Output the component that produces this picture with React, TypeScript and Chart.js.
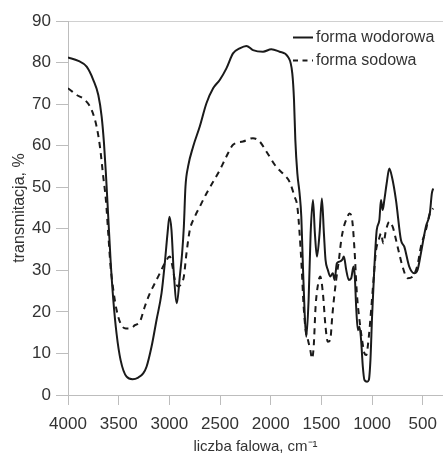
import React, { useEffect, useRef } from "react";
import { Chart, registerables } from "chart.js";

Chart.register(...registerables);

const seriesNames = ["forma wodorowa", "forma sodowa"];
const xTitle = "liczba falowa, cm⁻¹";
const yTitle = "transmitacja, %";
const xTickValues = [4000, 3500, 3000, 2500, 2000, 1500, 1000, 500];

// forma wodorowa (solid)
const hWave = [4000, 3898, 3816, 3750, 3701, 3668, 3645, 3626, 3603, 3580, 3553, 3521, 3481, 3422, 3363, 3307, 3258, 3225, 3176, 3127, 3077, 3045, 3018, 2999, 2979, 2956, 2926, 2897, 2874, 2857, 2841, 2815, 2765, 2700, 2634, 2568, 2503, 2437, 2372, 2306, 2240, 2175, 2076, 1994, 1912, 1830, 1787, 1770, 1757, 1737, 1715, 1698, 1682, 1665, 1649, 1626, 1606, 1583, 1564, 1544, 1518, 1495, 1475, 1459, 1436, 1413, 1387, 1370, 1347, 1321, 1295, 1278, 1255, 1229, 1206, 1183, 1170, 1157, 1140, 1124, 1108, 1091, 1075, 1049, 1032, 1016, 1000, 977, 954, 928, 912, 895, 879, 856, 830, 804, 764, 715, 682, 633, 584, 551, 518, 469, 430, 410, 397];
const hValues = [81.2, 80.4, 79.0, 75.8, 72.2, 67.0, 60.6, 53.3, 42.9, 32.5, 22.9, 14.8, 8.4, 4.4, 3.8, 4.2, 5.2, 6.8, 11.6, 18.0, 24.5, 31.7, 38.9, 42.9, 39.7, 29.3, 22.1, 28.5, 34.1, 40.5, 50.1, 55.0, 59.8, 64.6, 70.2, 73.8, 75.8, 78.6, 82.2, 83.4, 84.0, 83.0, 82.6, 83.2, 82.6, 81.4, 77.4, 71.0, 61.4, 53.3, 48.5, 42.9, 30.9, 19.7, 14.0, 22.9, 38.9, 46.9, 38.9, 33.3, 38.9, 47.3, 38.9, 32.5, 30.1, 28.5, 29.3, 27.7, 31.7, 32.1, 32.5, 33.3, 30.1, 27.7, 28.1, 30.9, 28.5, 21.3, 15.6, 16.4, 13.2, 6.8, 3.6, 3.2, 3.6, 8.4, 18.8, 30.9, 39.7, 42.1, 46.9, 44.5, 46.9, 50.9, 54.5, 52.5, 46.9, 37.3, 35.7, 30.9, 29.3, 30.1, 34.1, 40.5, 43.7, 48.5, 49.7];

// forma sodowa (dashed)
const naWave = [4000, 3915, 3833, 3767, 3718, 3685, 3652, 3626, 3603, 3580, 3553, 3521, 3481, 3429, 3383, 3340, 3291, 3242, 3192, 3143, 3094, 3045, 2996, 2969, 2946, 2913, 2880, 2857, 2831, 2798, 2749, 2700, 2634, 2568, 2503, 2437, 2372, 2273, 2175, 2109, 2043, 1945, 1863, 1814, 1764, 1737, 1715, 1695, 1675, 1655, 1632, 1609, 1593, 1576, 1557, 1534, 1511, 1485, 1459, 1436, 1413, 1393, 1377, 1354, 1327, 1304, 1278, 1249, 1223, 1196, 1173, 1150, 1124, 1098, 1075, 1058, 1032, 1009, 983, 960, 934, 912, 889, 862, 830, 797, 748, 699, 650, 600, 551, 518, 469, 430, 397];
const naValues = [73.8, 72.2, 71.0, 68.6, 64.6, 59.8, 52.5, 46.9, 38.9, 30.9, 25.3, 20.5, 17.2, 16.0, 16.0, 16.8, 17.6, 21.3, 24.5, 26.9, 29.3, 31.7, 33.3, 30.9, 27.7, 26.1, 26.9, 28.5, 34.1, 39.7, 42.9, 45.3, 48.5, 51.3, 54.1, 57.4, 60.2, 61.0, 61.8, 61.0, 58.6, 54.9, 52.9, 51.3, 47.7, 45.3, 38.9, 30.9, 21.3, 15.6, 13.2, 10.8, 8.8, 11.6, 21.3, 26.5, 28.5, 24.5, 16.4, 12.8, 13.2, 18.8, 22.9, 27.7, 32.5, 37.3, 40.5, 42.5, 43.7, 42.1, 34.9, 24.5, 18.0, 13.2, 10.0, 9.6, 14.0, 20.5, 28.5, 34.9, 37.3, 38.9, 36.5, 39.7, 41.7, 40.5, 35.7, 30.9, 28.1, 28.5, 31.3, 35.7, 39.7, 43.7, 44.9];

const FONT = '"Liberation Sans", Arial, sans-serif';
const TEXT = "#333333";
const AXIS = "#bdbdbd";
const LINE = "#1a1a1a";

const insideLegend = {
  id: "insideLegend",
  afterDraw(chart: any) {
    const { ctx, chartArea } = chart;
    ctx.save();
    const dashes = [[], [5, 4.5]];
    seriesNames.forEach((name, i) => {
      const y = chartArea.top + 16.5 + i * 23;
      const x0 = chartArea.right - 150;
      ctx.beginPath();
      ctx.setLineDash(dashes[i]);
      ctx.lineWidth = 2;
      ctx.strokeStyle = LINE;
      ctx.moveTo(x0, y);
      ctx.lineTo(x0 + 20, y);
      ctx.stroke();
      ctx.setLineDash([]);
      ctx.fillStyle = TEXT;
      ctx.font = "16px " + FONT;
      ctx.textBaseline = "middle";
      ctx.textAlign = "left";
      ctx.fillText(name, x0 + 23, y);
    });
    ctx.restore();
  },
};

export default function App() {
  const ref = useRef<HTMLCanvasElement>(null);
  useEffect(() => {
    if (!ref.current) return;
    const chart = new Chart(ref.current, {
      type: "line",
      data: {
        datasets: [
          {
            label: seriesNames[0],
            data: hWave.map((w, i) => ({ x: w, y: hValues[i] })),
            borderColor: LINE,
            borderWidth: 2,
            pointRadius: 0,
            cubicInterpolationMode: "monotone",
            fill: false,
          },
          {
            label: seriesNames[1],
            data: naWave.map((w, i) => ({ x: w, y: naValues[i] })),
            borderColor: LINE,
            borderWidth: 2,
            borderDash: [6, 5],
            pointRadius: 0,
            cubicInterpolationMode: "monotone",
            fill: false,
          },
        ],
      },
      options: {
        responsive: false,
        animation: false,
        layout: { padding: { top: 21, right: 0, left: 0, bottom: 0 } },
        plugins: { legend: { display: false }, tooltip: { enabled: false } },
        scales: {
          x: {
            type: "linear",
            reverse: true,
            min: 300,
            max: 4000,
            afterBuildTicks: (scale: any) => {
              scale.ticks = xTickValues.map((v) => ({ value: v }));
            },
            afterFit: (scale: any) => {
              scale.height = 58;
              scale.paddingRight = 0;
              scale.paddingLeft = 0;
            },
            border: { color: AXIS, width: 1 },
            grid: { drawOnChartArea: false, tickLength: 10, tickColor: AXIS },
            ticks: {
              color: TEXT,
              font: { family: FONT, size: 17 },
              padding: 9,
              maxRotation: 0,
              autoSkip: false,
              callback: (v: any) => String(v),
            },
            title: { display: true, text: xTitle, color: TEXT, font: { family: FONT, size: 15 }, padding: { top: 0, bottom: -3 } },
          },
          y: {
            min: 0,
            max: 90,
            ticks: { stepSize: 10, color: TEXT, font: { family: FONT, size: 17 }, padding: 5, callback: (v: any) => String(v) },
            afterFit: (scale: any) => {
              scale.width = 68;
            },
            border: { color: AXIS, width: 1 },
            grid: {
              color: (c: any) => (c.tick && c.tick.value === 90 ? "#d0d0d0" : "transparent"),
              tickColor: AXIS,
              tickLength: 12,
            },
            title: { display: true, text: yTitle, color: TEXT, font: { family: FONT, size: 16 }, padding: { top: 10, bottom: 0 } },
          },
        },
      },
      plugins: [insideLegend],
    });
    return () => chart.destroy();
  }, []);
  return (
    <div style={{ position: "fixed", left: 0, top: 0, width: 443, height: 453, background: "#fff" }}>
      <canvas ref={ref} width={443} height={453} />
    </div>
  );
}
